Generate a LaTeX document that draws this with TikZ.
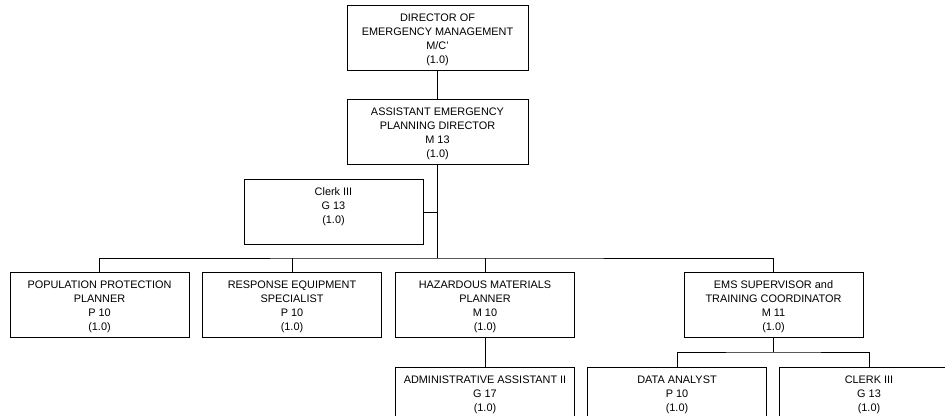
\documentclass[tikz,border=0pt]{standalone}
\usepackage{fontspec}
\setmainfont{Liberation Sans}
\usetikzlibrary{positioning}

\newcommand{\postfont}{\fontsize{10.9pt}{13.9pt}\selectfont}
\newcommand{\posttext}[1]{\parbox[c][63pt][t]{177pt}{\centering\rule{0pt}{15pt}#1}}

\begin{document}
\begin{tikzpicture}[x=1pt,y=-1pt,
  post/.style={draw, rectangle, line width=0.8pt, inner sep=1pt, anchor=north,
    minimum width=179pt, minimum height=65pt, font=\postfont},
  link/.style={line width=0.8pt}]

\useasboundingbox (0,0) rectangle (945,415);
\clip (0,0) rectangle (945,415);

% Top of the chart
\node[post, minimum width=181pt] (dir) at (437.5,5) {\posttext{DIRECTOR OF\\EMERGENCY MANAGEMENT\\M/C'\\(1.0)}};
\node[post, minimum width=181pt] (asst) at (437.5,99) {\posttext{ASSISTANT EMERGENCY\\PLANNING DIRECTOR\\M 13\\(1.0)}};
\node[post] (clerk) at (333.5,179) {\posttext{Clerk III\\G 13\\(1.0)}};

% Second row
\node[post] (ppp) at (99.5,272) {\posttext{POPULATION PROTECTION\\PLANNER\\P 10\\(1.0)}};
\node[post] (res) at (292,272) {\posttext{RESPONSE EQUIPMENT\\SPECIALIST\\P 10\\(1.0)}};
\node[post] (haz) at (485,272) {\posttext{HAZARDOUS MATERIALS\\PLANNER\\M 10\\(1.0)}};
\node[post] (ems) at (773.5,272) {\posttext{EMS SUPERVISOR and\\TRAINING COORDINATOR\\M 11\\(1.0)}};

% Third row
\node[post] (admin) at (485,367) {\posttext{ADMINISTRATIVE ASSISTANT II\\G 17\\(1.0)}};
\node[post] (data) at (677,367) {\posttext{DATA ANALYST\\P 10\\(1.0)}};
\node[post] (clerkb) at (869,367) {\posttext{CLERK III\\G 13\\(1.0)}};

% Lines
\coordinate (bus) at (437.5,258);
\coordinate (sub) at (773.5,352);
\draw[link] (dir) -- (asst);
\draw[link] (asst.south) -- (bus);
\draw[link] (clerk.east) -- (clerk.east -| asst.south);
\draw[link] (ppp.north) |- (bus) -| (ems.north);
\draw[link] (res.north) -- (res.north |- bus);
\draw[link] (haz.north) -- (haz.north |- bus);
\draw[link] (haz.south) -- (admin.north);
\draw[link] (ems.south) -- (sub);
\draw[link] (data.north) |- (sub) -| (clerkb.north);

\end{tikzpicture}
\end{document}
